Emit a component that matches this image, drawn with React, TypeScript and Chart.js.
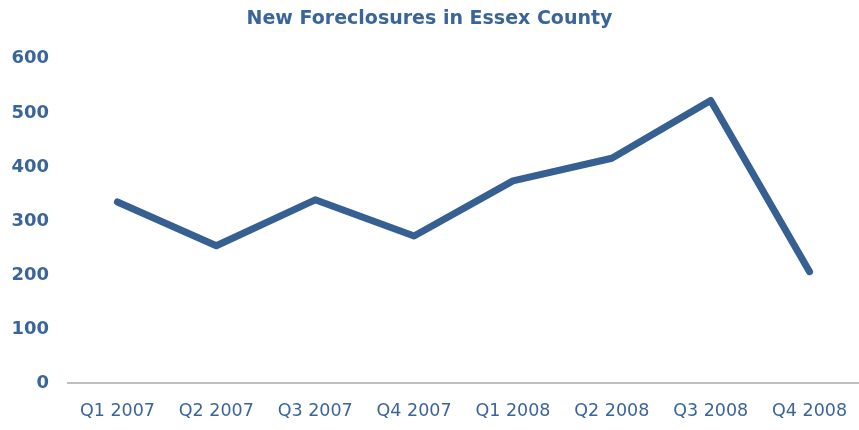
import React, { useEffect, useRef } from "react";
import { Chart, registerables } from "chart.js";

Chart.register(...registerables);

const categories = ["Q1 2007", "Q2 2007", "Q3 2007", "Q4 2007", "Q1 2008", "Q2 2008", "Q3 2008", "Q4 2008"];
const foreclosures = [335, 254, 339, 272, 374, 416, 523, 206];
const yTicks = [0, 100, 200, 300, 400, 500, 600];

const TEXT = "#3A659B";
const LINE = "#365F92";

export default function App() {
  const ref = useRef<HTMLCanvasElement | null>(null);
  useEffect(() => {
    document.body.style.margin = "0";
    const ctx = ref.current!;
    const chart = new Chart(ctx, {
      type: "line",
      data: {
        labels: categories,
        datasets: [
          {
            data: foreclosures,
            borderColor: LINE,
            borderWidth: 7,
            borderCapStyle: "round",
            borderJoinStyle: "round",
            pointRadius: 0,
            fill: false,
            tension: 0,
          },
        ],
      },
      options: {
        animation: false,
        responsive: false,
        layout: { autoPadding: false, padding: { top: 8, right: 0, bottom: 0, left: 0 } },
        plugins: {
          legend: { display: false },
          tooltip: { enabled: false },
          title: {
            display: true,
            text: "New Foreclosures in Essex County",
            color: TEXT,
            font: { family: "DejaVu Sans", size: 19, weight: "bold" },
            padding: { top: 0, bottom: 28 },
          },
        },
        scales: {
          x: {
            offset: true,
            grid: { display: false, drawTicks: false },
            border: { display: true, color: "#BFBFBF", width: 2 },
            ticks: {
              color: TEXT,
              font: { family: "DejaVu Sans", size: 17.5 },
              padding: 18,
              maxRotation: 0,
              autoSkip: false,
            },
            afterFit: (s: any) => {
              s.height = 47;
              s.paddingLeft = 0;
              s.paddingRight = 0;
            },
          },
          y: {
            min: 0,
            max: 600,
            grid: { display: false, drawTicks: false },
            border: { display: false },
            afterBuildTicks: (s: any) => {
              s.ticks = yTicks.map((v) => ({ value: v }));
            },
            ticks: {
              color: TEXT,
              font: { family: "DejaVu Sans", size: 18, weight: "bold" },
              padding: 19,
            },
            afterFit: (s: any) => {
              s.width = 68;
            },
          },
        },
      },
    });
    return () => chart.destroy();
  }, []);
  return (
    <div style={{ width: 859, height: 430 }}>
      <canvas ref={ref} width={859} height={430} style={{ display: "block" }} />
    </div>
  );
}
